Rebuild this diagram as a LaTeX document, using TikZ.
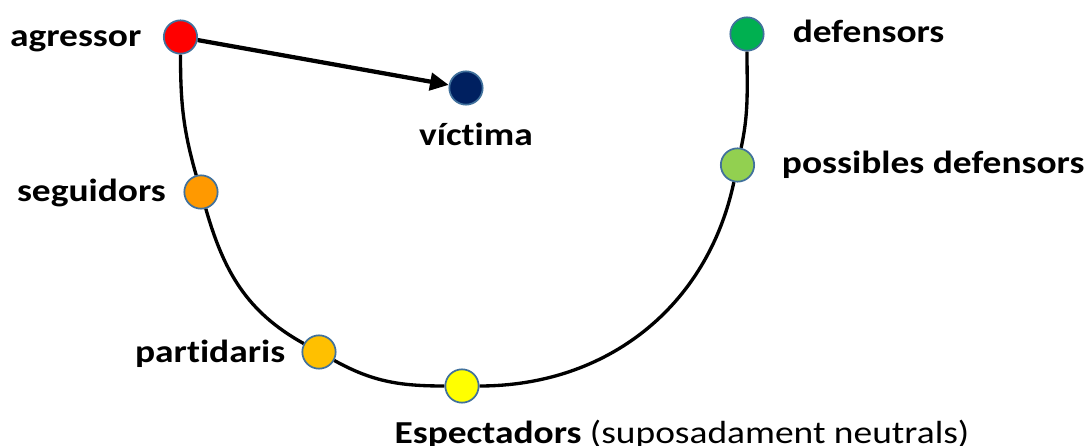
\documentclass[tikz,border=0pt]{standalone}
\usepackage{fontspec}
\setmainfont{Carlito}[Ligatures=NoCommon]
\usetikzlibrary{arrows.meta, positioning}
\definecolor{rimblue}{HTML}{41719C}
\definecolor{aggred}{HTML}{FF0000}
\definecolor{vicnavy}{HTML}{002060}
\definecolor{defgreen}{HTML}{00B050}
\definecolor{posgreen}{HTML}{92D050}
\definecolor{segorange}{HTML}{FF9900}
\definecolor{paramber}{HTML}{FFC000}
\definecolor{espyellow}{HTML}{FFFF00}
\newcommand{\wide}[1]{\scalebox{1.17}[1]{#1}}
\tikzstyle{person} = [circle, draw=rimblue, line width=1.3pt,
  minimum size=25pt, inner sep=0pt]
\tikzstyle{role} = [font=\fontsize{24}{28}\selectfont\bfseries,
  inner sep=0pt, text height=11pt, text depth=0pt]
\tikzstyle{line} = [draw, -{Triangle[length=14pt,width=13pt]}, line width=3.2pt]
\tikzstyle{rim} = [draw, line width=2.5pt]

\begin{document}
\begin{tikzpicture}[x=0.75pt, y=0.75pt]
    \useasboundingbox (0,0) rectangle (1086,-446);

    \node [person, fill=aggred] (agressor) at (180.5,-37) {};
    \node [person, fill=vicnavy] (victima) at (466,-88) {};
    \node [person, fill=segorange] (seguidors) at (201,-192) {};
    \node [person, fill=paramber] (partidaris) at (319,-352) {};
    \node [person, fill=espyellow] (espect) at (462,-386) {};
    \node [person, fill=posgreen] (possibles) at (737.5,-165) {};
    \node [person, fill=defgreen] (defensors) at (747,-34) {};

    \node [role, left=16pt of agressor, yshift=-1.5pt] (agrlbl) {\wide{agressor}};
    \node [role, below=19pt of victima, xshift=7.5pt] (viclbl) {\wide{víctima}};
    \node [role, left=13pt of seguidors, yshift=-1.5pt] (seglbl) {\wide{seguidors}};
    \node [role, left=12pt of partidaris, yshift=-2pt] (parlbl) {\wide{partidaris}};
    \node [role, below=19pt of espect, xshift=165pt] (esplbl)
      {\wide{Espectadors {\mdseries(suposadament neutrals)}}};
    \node [role, right=20pt of possibles, yshift=-1pt] (poslbl) {\wide{possibles defensors}};
    \node [role, right=21pt of defensors, yshift=-1pt] (deflbl) {\wide{defensors}};

    \path [rim] (agressor) to[out=-90, in=106] (seguidors)
      to[out=-74, in=151] (partidaris)
      to[out=-29, in=180] (espect)
      to[out=0, in=-102] (possibles)
      to[out=78, in=-90] (defensors);
    \path [line] (agressor) -- (victima);

\end{tikzpicture}
\end{document}
